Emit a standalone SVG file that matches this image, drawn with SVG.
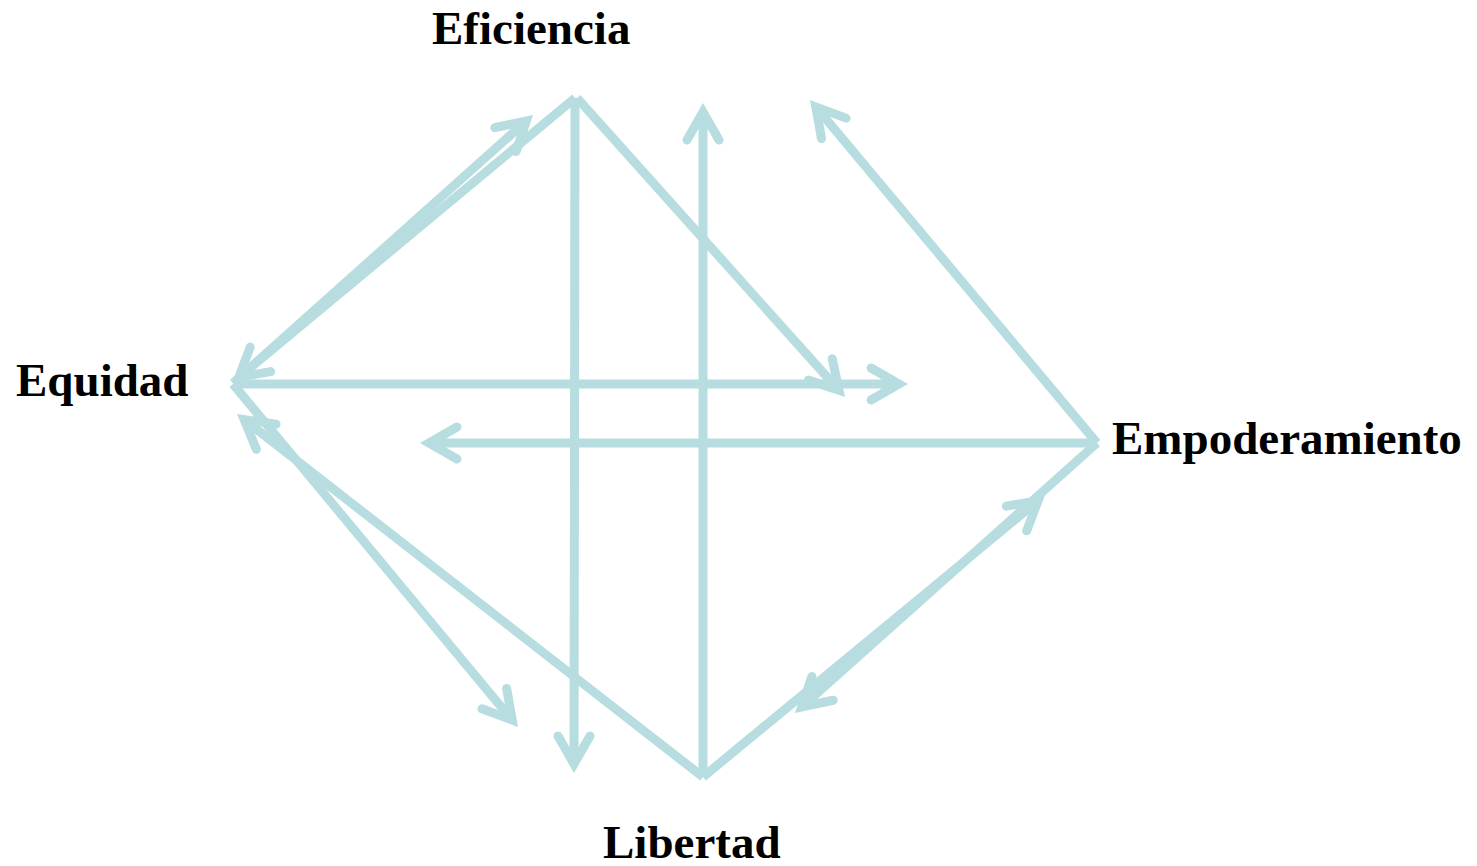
<svg xmlns="http://www.w3.org/2000/svg" width="1477" height="866" viewBox="0 0 1477 866">
  <defs>
    <style>
      .lbl { font-family: "Liberation Serif", "Times New Roman", serif; font-weight: bold; font-size: 47px; fill: #000; }
      .edge { fill: none; stroke: #b7dde0; stroke-width: 9; stroke-linecap: butt; marker-end: url(#arr); }
    </style>
    <marker id="arr" markerUnits="userSpaceOnUse" orient="auto" refX="0" refY="0" markerWidth="60" markerHeight="60" overflow="visible">
      <path d="M-28,-16 L0,0 L-28,16" fill="none" stroke="#b7dde0" stroke-width="9" stroke-linecap="round" stroke-linejoin="miter"/>
    </marker>
  </defs>
  <rect width="1477" height="866" fill="#ffffff"/>
  <g id="connectors">
    <path class="edge" d="M233,383 L526.3,121"/>
    <path class="edge" d="M575,98 L238.9,377.2"/>
    <path class="edge" d="M575,98 L574,764"/>
    <path class="edge" d="M703,777 L703,112"/>
    <path class="edge" d="M577,98 L839,390.3"/>
    <path class="edge" d="M233,384 L899,384"/>
    <path class="edge" d="M1097,443 L429,443"/>
    <path class="edge" d="M1097,443 L815.8,106.9"/>
    <path class="edge" d="M233,384 L512.2,720.1"/>
    <path class="edge" d="M703,777 L244.1,419.5"/>
    <path class="edge" d="M703,777 L1038.1,500.7"/>
    <path class="edge" d="M1097,443 L801.7,707"/>
  </g>
  <g id="node-eficiencia"><text class="lbl" x="432" y="44">Eficiencia</text></g>
  <g id="node-equidad"><text class="lbl" x="16" y="396">Equidad</text></g>
  <g id="node-empoderamiento"><text class="lbl" x="1112" y="454">Empoderamiento</text></g>
  <g id="node-libertad"><text class="lbl" x="603" y="858">Libertad</text></g>
</svg>
